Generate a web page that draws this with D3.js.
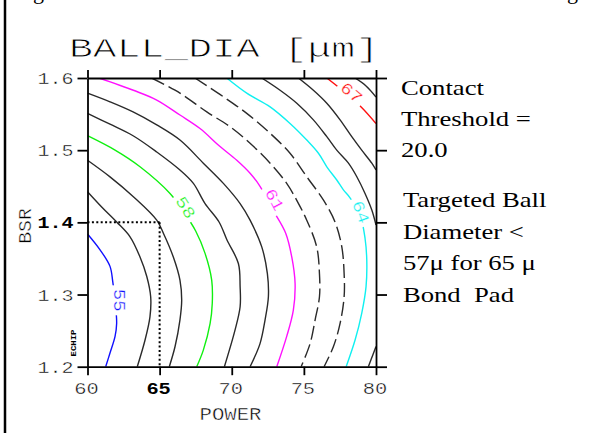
<!DOCTYPE html>
<html><head><meta charset="utf-8">
<script src="https://cdn.jsdelivr.net/npm/d3@7"></script>
<style>
html,body{margin:0;padding:0;background:#fff;}
svg{display:block;}
.mono{font-family:"Liberation Mono","DejaVu Sans Mono",monospace;}
.serif{font-family:"Liberation Serif","Times New Roman",serif;white-space:pre;}
</style></head><body>
<svg id="chart" width="595" height="433"></svg>
<script>
// Axis ticks
const powerTicks = [60, 65, 70, 75, 80];
const bsrTicks = [1.2, 1.3, 1.4, 1.5, 1.6];
const targetPower = 65;
const targetBsr = 1.4;

// Contour paths of BALL_DIA, each as [POWER, BSR] points
const c55 = [[60,1.384],[60.87,1.362],[61.56,1.339],[61.75,1.318],[61.91,1.292],[62.02,1.26],[61.91,1.242],[61.56,1.219],[61.26,1.2]];
const c56 = [[60,1.4425],[61.0,1.421],[62.02,1.4005],[62.95,1.38],[63.64,1.352],[64.11,1.325],[64.38,1.297],[64.33,1.269],[63.99,1.237],[63.45,1.2]];
const c57 = [[60,1.486],[61.56,1.463],[63.18,1.4355],[64.8,1.403],[65.26,1.385],[65.95,1.352],[66.41,1.32],[66.53,1.292],[66.41,1.265],[66.07,1.228],[65.67,1.2]];
const c58 = [[60,1.52],[61.91,1.5],[63.64,1.477],[65.72,1.44],[66.69,1.414],[67.5,1.388],[68.15,1.357],[68.61,1.32],[68.65,1.288],[68.5,1.26],[68.03,1.223],[67.57,1.2]];
const c59 = [[60,1.551],[61.56,1.536],[63.16,1.52],[64.8,1.4975],[66.41,1.4725],[67.34,1.454],[68.15,1.426],[69.12,1.4005],[69.67,1.3755],[70.46,1.343],[70.58,1.311],[70.58,1.283],[70.23,1.251],[69.49,1.2]];
const c60 = [[60,1.579],[61.56,1.567],[63.16,1.553],[64.8,1.535],[66.41,1.514],[68.03,1.482],[69.42,1.454],[70.58,1.426],[71.27,1.403],[72.08,1.366],[72.47,1.329],[72.54,1.297],[72.31,1.265],[71.96,1.232],[71.27,1.2]];
const c61 = [[60.8,1.6],[63.18,1.583],[64.8,1.5695],[66.41,1.5487],[67.8,1.53],[69.19,1.505],[70.35,1.486],[71.27,1.468],[71.96,1.45],[72.86,1.417],[73.74,1.385],[74.16,1.352],[74.39,1.3155],[74.27,1.2785],[73.81,1.242],[73.12,1.2]];
const c62 = [[64.45,1.6],[66.41,1.579],[68.27,1.553],[69.88,1.5325],[71.27,1.5095],[72.66,1.482],[73.81,1.454],[74.6,1.427],[75.2,1.403],[75.89,1.366],[76.08,1.329],[76.08,1.297],[75.78,1.265],[75.43,1.232],[74.81,1.2]];
const c63 = [[67.45,1.6],[69.42,1.574],[71.04,1.551],[72.66,1.5234],[74.04,1.4957],[75.2,1.4632],[76.35,1.431],[77.16,1.4005],[77.63,1.366],[77.79,1.329],[77.79,1.297],[77.51,1.26],[77.05,1.228],[76.4,1.2]];
const c64 = [[69.65,1.6],[71.04,1.579],[72.66,1.56],[74.04,1.537],[75.2,1.514],[76.01,1.4957],[76.59,1.477],[77.28,1.4587],[77.74,1.445],[78.2,1.434],[78.9,1.41],[79.24,1.378],[79.36,1.348],[79.31,1.311],[79.01,1.274],[78.55,1.237],[77.93,1.2]];
const c65a = [[72.08,1.6],[73.35,1.583],[74.51,1.565],[75.66,1.542],[76.59,1.5187],[77.28,1.5],[78.09,1.482],[78.67,1.4632],[79.24,1.44],[79.71,1.417],[80,1.3963]];
const c65b = [[80,1.228],[79.47,1.2]];
const c66 = [[74.62,1.6],[75.66,1.583],[76.59,1.565],[77.51,1.542],[78.32,1.5187],[79.01,1.5],[79.71,1.482],[80,1.4725]];
const c67 = [[76.59,1.6],[77.51,1.5855],[78.34,1.5716],[79.04,1.5584],[80,1.537]];
const c68 = [[78.55,1.6],[79.31,1.589],[80,1.5737]];

const contourLevels = [55, 56, 57, 58, 59, 60, 61, 62, 63, 64, 65, 66, 67, 68];
const contourPaths = [[c55],[c56],[c57],[c58],[c59],[c60],[c61],[c62],[c63],[c64],[c65a,c65b],[c66],[c67],[c68]];

// Labelled levels: position on the contour and text angle
const labelLevels = [55, 58, 61, 64, 67];
const labelPower = [62.18, 66.76, 72.93, 78.9, 78.27];
const labelBsr = [1.292, 1.42, 1.431, 1.414, 1.579];
const labelAngle = [90, 58, 62, 70, 40];

// Notes beside the plot
const noteLines = ["Contact", "Threshold =", "20.0", "Targeted Ball", "Diameter <", "57\u03bc for 65 \u03bc", "Bond  Pad"];

const levelColor = {55:"#1010ff", 58:"#10f010", 61:"#ff10ff", 64:"#10f0f0", 67:"#ff1010"};
const dashedLevels = [62, 63];

const svg = d3.select("#chart");
const x = d3.scaleLinear().domain([60, 80]).range([87.5, 376]);
const y = d3.scaleLinear().domain([1.2, 1.6]).range([366.7, 78]);

// page frame fragments
svg.append("line").attr("x1", 5).attr("x2", 5).attr("y1", 0).attr("y2", 433)
  .attr("stroke", "#000").attr("stroke-width", 2.5);
svg.selectAll("text.cut").data([33, 567]).join("text").attr("class", "serif cut")
  .attr("x", d => d).attr("y", -1.5).attr("font-size", 22).text("g");

// helper for the thin, wide plotter lettering
function strokeText(parent, px, py, str, size, opts = {}) {
  const g = parent.append("g")
    .attr("transform", `translate(${px},${py}) rotate(${opts.angle || 0}) scale(${opts.sx || 1.3},1)`);
  g.append("text").attr("class", "mono")
    .attr("font-size", size)
    .attr("font-weight", opts.bold ? "bold" : "normal")
    .attr("text-anchor", opts.anchor || "middle")
    .attr("dominant-baseline", opts.baseline || "auto")
    .attr("fill", opts.fill || "#000")
    // a white outline over the fill trims the glyph strokes down to a pen width
    .attr("stroke", opts.thin ? "#fff" : "none")
    .attr("stroke-width", opts.thin || 0)
    .text(str);
  return g;
}

// masks cutting the contour lines where labels sit
const defs = svg.append("defs");
const mask = defs.append("mask").attr("id", "labelGaps").attr("maskUnits", "userSpaceOnUse")
  .attr("x", 0).attr("y", 0).attr("width", 595).attr("height", 433);
mask.append("rect").attr("width", 595).attr("height", 433).attr("fill", "#fff");
labelLevels.forEach((lv, i) => {
  mask.append("rect")
    .attr("x", -15).attr("y", -8).attr("width", 30).attr("height", 16)
    .attr("transform", `translate(${x(labelPower[i])},${y(labelBsr[i])}) rotate(${labelAngle[i]})`)
    .attr("fill", "#000");
});
defs.append("clipPath").attr("id", "plotClip").append("rect")
  .attr("x", x(60)).attr("y", y(1.6)).attr("width", x(80) - x(60)).attr("height", y(1.2) - y(1.6));

// contour lines
const line = d3.line().x(d => x(d[0])).y(d => y(d[1])).curve(d3.curveCatmullRom.alpha(0.5));
const cg = svg.append("g").attr("mask", "url(#labelGaps)").attr("clip-path", "url(#plotClip)");
contourLevels.forEach((lv, i) => {
  contourPaths[i].forEach(seg => {
    cg.append("path").attr("d", line(seg))
      .attr("fill", "none")
      .attr("stroke", levelColor[lv] || "#2a2a2a")
      .attr("stroke-width", 1.4)
      .attr("stroke-dasharray", dashedLevels.includes(lv) ? "14,5" : null);
  });
});

// contour labels
labelLevels.forEach((lv, i) => {
  strokeText(svg, x(labelPower[i]), y(labelBsr[i]), String(lv), 16,
    {angle: labelAngle[i], fill: levelColor[lv], baseline: "central", sx: 1.2, thin: 0.3});
});

// target guide lines
const guide = svg.append("g").attr("stroke", "#000").attr("stroke-width", 2).attr("stroke-dasharray", "2,2.4");
guide.append("line").attr("x1", x(60)).attr("x2", x(targetPower)).attr("y1", y(targetBsr)).attr("y2", y(targetBsr));
guide.append("line").attr("x1", x(targetPower)).attr("x2", x(targetPower)).attr("y1", y(targetBsr)).attr("y2", y(1.2));

// axes on all four sides
function styleAxis(g) {
  g.selectAll("path,line").attr("stroke", "#000").attr("stroke-width", 1.8);
  g.selectAll("text").remove();
}
svg.append("g").attr("transform", `translate(${x(60)},0)`)
  .call(d3.axisLeft(y).tickValues(bsrTicks).tickSize(10).tickSizeOuter(0)).call(styleAxis);
svg.append("g").attr("transform", `translate(${x(80)},0)`)
  .call(d3.axisRight(y).tickValues(bsrTicks).tickSize(11).tickSizeOuter(0)).call(styleAxis);
svg.append("g").attr("transform", `translate(0,${y(1.6)})`)
  .call(d3.axisTop(x).tickValues(powerTicks).tickSize(8).tickSizeOuter(0)).call(styleAxis);
svg.append("g").attr("transform", `translate(0,${y(1.2)})`)
  .call(d3.axisBottom(x).tickValues(powerTicks).tickSize(8.5).tickSizeOuter(0)).call(styleAxis);

// tick labels
bsrTicks.forEach(t => {
  const bold = t === targetBsr;
  strokeText(svg, 73.5, y(t) + 6, t.toFixed(1), 17, {anchor: "end", sx: 1.18, bold, thin: bold ? 0 : 0.4});
});
powerTicks.forEach(t => {
  const bold = t === targetPower;
  strokeText(svg, x(t) - 1, 393.5, String(t), 17, {sx: 1.2, bold, thin: bold ? 0 : 0.4});
});

// axis titles
strokeText(svg, 230.5, 420, "POWER", 18, {sx: 1.15, thin: 0.45});
strokeText(svg, 31, 226, "BSR", 18, {angle: -90, sx: 1.1, thin: 0.45});
strokeText(svg, 76, 343, "ECHIP", 7.5, {angle: -90, sx: 1.2, bold: true});
strokeText(svg, 69, 57, "BALL_DIA [\u03bcm]", 28, {anchor: "start", sx: 1.42, thin: 0.8});

// notes, set in a horizontally widened serif
const notes = svg.append("g").attr("transform", "translate(401,0) scale(1.27,1)");
notes.selectAll("text").data(noteLines).join("text").attr("class", "serif")
  .attr("x", (d, i) => i < 3 ? 0 : 1.5)
  .attr("y", (d, i) => [95, 126, 157, 207, 239, 270, 302][i])
  .attr("font-size", 21).attr("fill", "#000").text(d => d);
</script>
</body></html>
